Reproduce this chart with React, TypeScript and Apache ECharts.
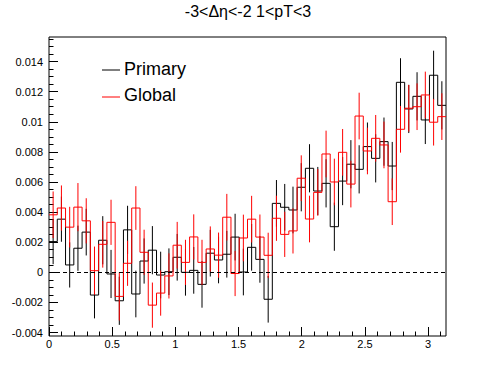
import React, { useEffect, useRef } from 'react';
import * as echarts from 'echarts';

const TITLE = '-3<Δη<-2 1<pT<3';
const SERIES_NAMES = ['Primary', 'Global'];
const SERIES_COLORS = ['#000000', '#ff0000'];

const N_BINS = 48;
const X_MIN = 0;
const X_MAX = Math.PI;
const Y_MIN = -0.00423;
const Y_MAX = 0.01563;

const primaryValues = [
  0.00204, 0.00353, 0.00049, 0.0016, 0.00267, -0.00151, 0.00213, -0.00011,
  -0.00189, 0.00282, -0.00144, 0.00075, 0.00147, -0.00018, 0.00004, 0.001,
  0.0, 0.00013, -0.0008, 0.00127, 0.00082, 0.0012, 0.00234, 0.00002,
  0.00166, 0.00086, -0.00179, 0.00458, 0.00432, 0.00414, 0.00565, 0.00691,
  0.0054, 0.00591, 0.00303, 0.00606, 0.00718, 0.00684, 0.00835, 0.00757,
  0.00868, 0.00706, 0.01262, 0.01085, 0.01169, 0.01012, 0.01309, 0.01109,
];
const primaryErrors = [
  0.0015, 0.0015, 0.0015, 0.0015, 0.00155, 0.00155, 0.0016, 0.0016,
  0.0016, 0.0016, 0.00155, 0.0015, 0.0016, 0.00155, 0.00155, 0.00155,
  0.00155, 0.00155, 0.00155, 0.00155, 0.00155, 0.00155, 0.00155, 0.00155,
  0.00155, 0.00155, 0.00155, 0.00155, 0.00155, 0.00155, 0.0016, 0.0016,
  0.0016, 0.0016, 0.0016, 0.0016, 0.0016, 0.0016, 0.0016, 0.0016,
  0.0016, 0.0016, 0.0016, 0.0016, 0.0016, 0.0016, 0.00163, 0.0016,
];
const globalValues = [
  0.00382, 0.00427, 0.003, 0.00433, 0.00342, 0.00011, 0.00186, 0.00332,
  -0.0016, 0.0006, 0.00427, 0.00133, -0.00218, -0.00138, -0.00024, 0.0018,
  0.00066, 0.00235, 0.00066, 0.00155, 0.00114, 0.00366, -0.00008, 0.00228,
  0.00353, 0.00234, 0.00113, 0.00359, 0.00252, 0.00275, 0.00625, 0.00354,
  0.00531, 0.00786, 0.006, 0.00797, 0.00586, 0.01038, 0.00806, 0.0089,
  0.00846, 0.00469, 0.0095, 0.0109, 0.011, 0.01178, 0.00997, 0.01034,
];
const globalErrors = [
  0.00155, 0.0015, 0.00135, 0.0016, 0.0015, 0.0016, 0.00155, 0.0015,
  0.0016, 0.0015, 0.00145, 0.0015, 0.0015, 0.0015, 0.0015, 0.00155,
  0.0015, 0.0015, 0.0015, 0.0015, 0.0015, 0.00155, 0.0015, 0.00155,
  0.00155, 0.0015, 0.0015, 0.0015, 0.0015, 0.0015, 0.00152, 0.00155,
  0.00155, 0.00155, 0.00155, 0.00155, 0.00155, 0.00155, 0.00155, 0.00155,
  0.00155, 0.00155, 0.00155, 0.00155, 0.00155, 0.00155, 0.00155, 0.00155,
];

const xMajorTicks = [0, 0.5, 1, 1.5, 2, 2.5, 3];
const xMinorTicks = [
  0.1, 0.2, 0.3, 0.4, 0.6, 0.7, 0.8, 0.9, 1.1, 1.2, 1.3, 1.4, 1.6, 1.7, 1.8, 1.9,
  2.1, 2.2, 2.3, 2.4, 2.6, 2.7, 2.8, 2.9, 3.1,
];
const yMajorTicks = [-0.004, -0.002, 0, 0.002, 0.004, 0.006, 0.008, 0.01, 0.012, 0.014];
const yMinorTicks = [
  -0.0035, -0.003, -0.0025, -0.0015, -0.001, -0.0005, 0.0005, 0.001, 0.0015,
  0.0025, 0.003, 0.0035, 0.0045, 0.005, 0.0055, 0.0065, 0.007, 0.0075, 0.0085,
  0.009, 0.0095, 0.0105, 0.011, 0.0115, 0.0125, 0.013, 0.0135, 0.0145, 0.015, 0.0155,
];

const FONT = '"Liberation Sans", Arial, Helvetica, sans-serif';

function stepData(values: number[]) {
  const w = (X_MAX - X_MIN) / N_BINS;
  const pts: number[][] = values.map((v, i) => [X_MIN + i * w, v]);
  pts.push([X_MIN + values.length * w, values[values.length - 1]]);
  return pts;
}

function errData(values: number[], errs: number[]) {
  const w = (X_MAX - X_MIN) / N_BINS;
  return values.map((v, i) => [X_MIN + (i + 0.5) * w, v, errs[i]]);
}

function errSeries(name: string, values: number[], errs: number[], color: string, z: number) {
  return {
    name: name + ' err',
    type: 'custom',
    xAxisIndex: 0,
    yAxisIndex: 0,
    z,
    silent: true,
    clip: true,
    encode: { x: 0, y: 1 },
    data: errData(values, errs),
    renderItem: (params: any, api: any) => {
      const c = api.value(0);
      const v = api.value(1);
      const e = api.value(2);
      const p1 = api.coord([c, v - e]);
      const p2 = api.coord([c, v + e]);
      return {
        type: 'line',
        shape: { x1: p1[0], y1: p1[1], x2: p2[0], y2: p2[1] },
        style: { stroke: color, lineWidth: 1 },
      };
    },
  };
}

function stepSeries(name: string, values: number[], color: string, z: number, extra: any = {}) {
  return {
    name,
    type: 'line',
    xAxisIndex: 0,
    yAxisIndex: 0,
    step: 'end',
    z,
    silent: true,
    showSymbol: false,
    symbol: 'none',
    lineStyle: { color, width: 1 },
    data: stepData(values),
    ...extra,
  };
}

const fmtY = (v: number) => parseFloat(v.toFixed(4)).toString();
const fmtX = (v: number) => parseFloat(v.toFixed(2)).toString();

export default function App() {
  const ref = useRef<HTMLDivElement>(null);
  useEffect(() => {
    if (!ref.current) return;
    const chart = echarts.init(ref.current, undefined, { renderer: 'svg' });
    const axisCommon = {
      type: 'value',
      axisLine: { show: false, onZero: false },
      splitLine: { show: false },
    };
    const option: any = {
      animation: false,
      backgroundColor: '#ffffff',
      grid: {
        left: 49,
        top: 37,
        width: 397,
        height: 299,
        show: true,
        borderColor: '#000',
        borderWidth: 1,
        backgroundColor: 'transparent',
        containLabel: false,
      },
      xAxis: [
        {
          ...axisCommon,
          min: X_MIN,
          max: X_MAX,
          position: 'bottom',
          axisTick: { show: true, inside: true, length: 9, customValues: xMajorTicks, lineStyle: { color: '#000', width: 1 } },
          axisLabel: {
            show: true,
            customValues: xMajorTicks,
            formatter: fmtX,
            margin: 2,
            color: '#000',
            fontSize: 11,
            fontFamily: FONT,
          },
        },
        {
          ...axisCommon,
          min: X_MIN,
          max: X_MAX,
          position: 'bottom',
          offset: 0,
          axisTick: { show: true, inside: true, length: 4.5, customValues: xMinorTicks, lineStyle: { color: '#000', width: 1 } },
          axisLabel: { show: false },
        },
      ],
      yAxis: [
        {
          ...axisCommon,
          min: Y_MIN,
          max: Y_MAX,
          position: 'left',
          axisTick: { show: true, inside: true, length: 9, customValues: yMajorTicks, lineStyle: { color: '#000', width: 1 } },
          axisLabel: {
            show: true,
            customValues: yMajorTicks,
            formatter: fmtY,
            margin: 6,
            color: '#000',
            fontSize: 11,
            fontFamily: FONT,
          },
        },
        {
          ...axisCommon,
          min: Y_MIN,
          max: Y_MAX,
          position: 'left',
          offset: 0,
          axisTick: { show: true, inside: true, length: 4.5, customValues: yMinorTicks, lineStyle: { color: '#000', width: 1 } },
          axisLabel: { show: false },
        },
      ],
      series: [
        stepSeries(SERIES_NAMES[0], primaryValues, SERIES_COLORS[0], 2, {
          markLine: {
            silent: true,
            symbol: 'none',
            label: { show: false },
            lineStyle: { type: [4, 3], color: '#000', width: 1 },
            data: [{ yAxis: 0 }],
          },
        }),
        errSeries(SERIES_NAMES[0], primaryValues, primaryErrors, SERIES_COLORS[0], 2),
        stepSeries(SERIES_NAMES[1], globalValues, SERIES_COLORS[1], 3),
        errSeries(SERIES_NAMES[1], globalValues, globalErrors, SERIES_COLORS[1], 3),
      ],
      graphic: [
        {
          type: 'text',
          x: 248,
          y: 11,
          style: {
            text: TITLE,
            fill: '#000',
            font: `16px ${FONT}`,
            align: 'center',
            verticalAlign: 'middle',
          },
        },
        {
          type: 'line',
          shape: { x1: 102, y1: 70, x2: 120, y2: 70 },
          style: { stroke: SERIES_COLORS[0], lineWidth: 1 },
        },
        {
          type: 'text',
          x: 124,
          y: 69,
          style: {
            text: SERIES_NAMES[0],
            fill: '#000',
            font: `18px ${FONT}`,
            align: 'left',
            verticalAlign: 'middle',
          },
        },
        {
          type: 'line',
          shape: { x1: 102, y1: 97, x2: 120, y2: 97 },
          style: { stroke: SERIES_COLORS[1], lineWidth: 1 },
        },
        {
          type: 'text',
          x: 124,
          y: 95,
          style: {
            text: SERIES_NAMES[1],
            fill: '#000',
            font: `18px ${FONT}`,
            align: 'left',
            verticalAlign: 'middle',
          },
        },
      ],
    };
    chart.setOption(option);
    return () => chart.dispose();
  }, []);
  return (
    <div
      ref={ref}
      style={{ position: 'absolute', left: 0, top: 0, width: 496, height: 374, background: '#fff' }}
    />
  );
}
